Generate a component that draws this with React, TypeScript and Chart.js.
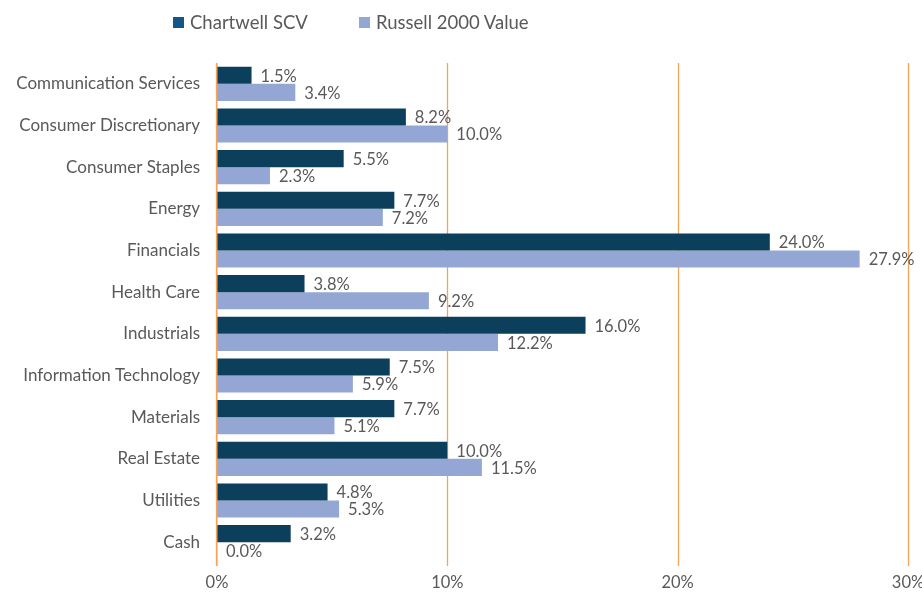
import React, { useEffect, useRef } from "react";
import { Chart, registerables } from "chart.js";

Chart.register(...registerables);

const categories = [
  "Communication Services",
  "Consumer Discretionary",
  "Consumer Staples",
  "Energy",
  "Financials",
  "Health Care",
  "Industrials",
  "Information Technology",
  "Materials",
  "Real Estate",
  "Utilities",
  "Cash",
];
const chartwell = [1.5, 8.2, 5.5, 7.7, 24.0, 3.8, 16.0, 7.5, 7.7, 10.0, 4.8, 3.2];
const russell = [3.4, 10.0, 2.3, 7.2, 27.9, 9.2, 12.2, 5.9, 5.1, 11.5, 5.3, 0.0];
const seriesNames = ["Chartwell SCV", "Russell 2000 Value"];
const xMin = 0;
const xMax = 30;
const xStep = 10;

const DARK = "#0C3F5C";
const DARK_LEGEND = "#13578A";
const LIGHT = "#94A7D4";
const TEXT = "#595959";
const GRID = "#F5A25A";
const FONT = "Lato, 'Noto Sans', sans-serif";

const gridPlugin = {
  id: "orangeGrid",
  beforeDatasetsDraw(chart: any) {
    const ctx = chart.ctx;
    const area = chart.chartArea;
    const xs = chart.scales.x;
    ctx.save();
    ctx.strokeStyle = GRID;
    ctx.lineWidth = 1.3;
    xs.ticks.forEach((t: any) => {
      let px = Math.round(xs.getPixelForValue(t.value)) + 0.5;
      if (t.value === xMin) px -= 1;
      ctx.beginPath();
      ctx.moveTo(px, area.top);
      ctx.lineTo(px, area.bottom + 3);
      ctx.stroke();
    });
    ctx.restore();
  },
};

const labelPlugin = {
  id: "valueLabels",
  afterDatasetsDraw(chart: any) {
    const ctx = chart.ctx;
    const area = chart.chartArea;
    ctx.save();
    ctx.strokeStyle = GRID;
    ctx.lineWidth = 1.5;
    ctx.beginPath();
    ctx.moveTo(area.left - 0.25, area.top);
    ctx.lineTo(area.left - 0.25, area.bottom + 3);
    ctx.stroke();
    ctx.font = `16.5px ${FONT}`;
    ctx.fillStyle = TEXT;
    ctx.textAlign = "left";
    ctx.textBaseline = "middle";
    chart.data.datasets.forEach((ds: any, i: number) => {
      const meta = chart.getDatasetMeta(i);
      meta.data.forEach((el: any, j: number) => {
        const v = ds.data[j];
        ctx.fillText(v.toFixed(1) + "%", el.x + 9, el.y + 1);
      });
    });
    ctx.restore();
  },
};

export default function App() {
  const ref = useRef<HTMLCanvasElement | null>(null);
  useEffect(() => {
    if (!ref.current) return;
    const chart = new Chart(ref.current, {
      type: "bar",
      data: {
        labels: categories,
        datasets: [
          { label: seriesNames[0], data: chartwell, backgroundColor: DARK, barPercentage: 1, categoryPercentage: 0.82 },
          { label: seriesNames[1], data: russell, backgroundColor: LIGHT, barPercentage: 1, categoryPercentage: 0.82 },
        ],
      },
      options: {
        indexAxis: "y",
        animation: false,
        responsive: false,
        maintainAspectRatio: false,
        layout: { padding: { top: 63, right: 0, left: 0, bottom: 0 } },
        plugins: { legend: { display: false }, tooltip: { enabled: false } },
        scales: {
          x: {
            min: xMin,
            max: xMax,
            afterFit: (scale: any) => {
              scale.height = 30;
              scale.paddingRight = 14;
            },
            ticks: {
              stepSize: xStep,
              callback: (v: any) => v + "%",
              color: TEXT,
              font: { size: 16.5, family: FONT },
              padding: 2,
            },
            grid: { display: false },
            border: { display: false },
          },
          y: {
            afterFit: (scale: any) => {
              scale.width = 217;
            },
            ticks: {
              color: TEXT,
              font: { size: 17, family: FONT },
              padding: 9,
            },
            grid: { display: false },
            border: { display: false },
          },
        },
      },
      plugins: [gridPlugin, labelPlugin],
    });
    return () => chart.destroy();
  }, []);

  const legendItem = (color: string, text: string, left: number) => (
    <div style={{ position: "absolute", left, top: 11, display: "flex", alignItems: "center", fontFamily: FONT, fontSize: 18.5, color: TEXT, lineHeight: "22px" }}>
      <span style={{ display: "inline-block", width: 11, height: 11, background: color, marginRight: 6 }} />
      <span>{text}</span>
    </div>
  );

  return (
    <div style={{ position: "fixed", left: 0, top: 0, width: 922, height: 593, background: "#fff" }}>
      <canvas ref={ref} width={922} height={593} style={{ position: "absolute", left: 0, top: 0 }} />
      {legendItem(DARK_LEGEND, seriesNames[0], 173)}
      {legendItem(LIGHT, seriesNames[1], 359)}
    </div>
  );
}
